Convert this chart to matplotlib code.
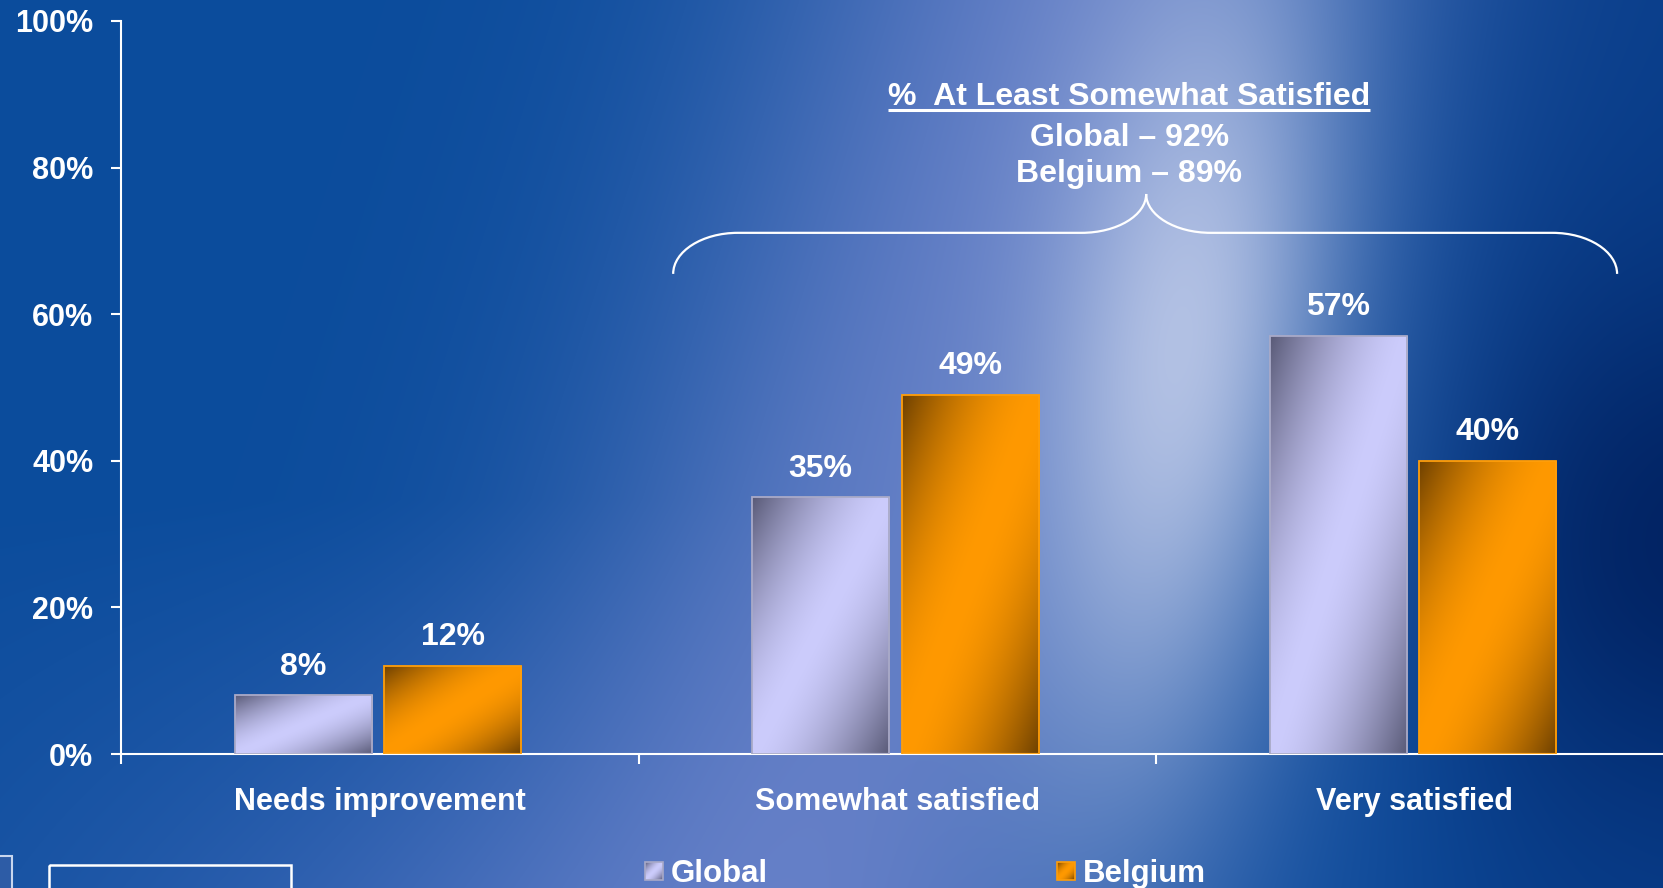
import numpy as np
import matplotlib
matplotlib.use('Agg')
import matplotlib.pyplot as plt
from matplotlib.patches import Rectangle, PathPatch
from matplotlib.path import Path
from matplotlib.colors import to_rgb

# survey data (% of respondents)
categories = ['Needs improvement', 'Somewhat satisfied', 'Very satisfied']
global_pct = [8, 35, 57]
belgium_pct = [12, 49, 40]
series_names = ['Global', 'Belgium']
y_ticks = [0, 20, 40, 60, 80, 100]
summary_title = '%  At Least Somewhat Satisfied'
summary_lines = ['Global – 92%', 'Belgium – 89%']

W, H = 1663, 888
CAT_PX = 517.5
plt.rcParams['font.family'] = ['Liberation Sans', 'DejaVu Sans']
plt.rcParams['font.weight'] = 'bold'

fig = plt.figure(figsize=(W / 100, H / 100), dpi=100)


def rgb(h):
    return np.array(to_rgb(h))


def blend(img, color, w):
    w = np.clip(w, 0, 1)[..., None]
    return img * (1 - w) + rgb(color) * w


def line_dist(xx, yy, p0, p1):
    dx, dy = p1[0] - p0[0], p1[1] - p0[1]
    n = np.hypot(dx, dy)
    return np.abs((xx - p0[0]) * dy - (yy - p0[1]) * dx) / n


# slide background: blue with a light diagonal beam
bg = fig.add_axes([0, 0, 1, 1], zorder=0)
bg.set_xlim(0, W)
bg.set_ylim(H, 0)
bg.axis('off')
yy, xx = np.mgrid[0:H, 0:W].astype(float)
img = np.ones((H, W, 3)) * rgb('#0b4c9c')
img = blend(img, '#4a70c0', 0.6 * np.clip((yy - 500) / 400, 0, 1) * np.exp(-((xx - 550) / 550) ** 2))
img = blend(img, '#06337e', 0.6 / (1 + np.exp(-(xx - 1440) / 70)))
img = blend(img, '#001d5a', 0.85 / (1 + np.exp(-(xx - 1510) / 60)) * np.exp(-((yy - 540) / 260) ** 2))
d_haze = line_dist(xx, yy, (1070, 0), (790, 888))
img = blend(img, '#7488ce', 0.8 * np.exp(-(d_haze / 310) ** 2))
d_core = line_dist(xx, yy, (1220, 0), (1120, 888))
img = blend(img, '#c6d0ec', 0.85 * np.exp(-(d_core / 145) ** 2) * np.exp(-((yy - 350) / 420) ** 2))
bg.imshow(img, extent=[0, W, H, 0], aspect='auto', interpolation='bilinear')

# small logo frame in the lower left corner
bg.add_patch(Rectangle((-4, 856), 16, 40, facecolor='#2d5ca6', edgecolor='#c8d6ee', lw=1.5))
bg.add_patch(Rectangle((49, 865), 242, 40, facecolor='none', edgecolor='white', lw=1.8))


def gradient_fill(ax, patch, light, dark, power, zorder):
    x0, y0 = patch.get_x(), patch.get_y()
    w, h = patch.get_width(), patch.get_height()
    i = np.linspace(0, 1, 200)[:, None]
    j = np.linspace(0, 1, 60)[None, :]
    s = np.abs((i + j) / 2 - 0.5) * 2
    s = s ** power
    cols = rgb(light) + (rgb(dark) - rgb(light)) * s[..., None]
    im = ax.imshow(cols, extent=[x0, x0 + w, y0, y0 + h], origin='upper',
                   aspect='auto', zorder=zorder, interpolation='bilinear')
    im.set_clip_path(patch)


styles = {
    'Global': dict(light='#ccccfc', dark='#5a5b78', power=1.6, edge='#a9aac8'),
    'Belgium': dict(light='#ff9900', dark='#6f4100', power=1.8, edge='#ff9e0a'),
}

ax = fig.add_axes([121 / W, (H - 754) / H, (W - 121) / W, 733 / H], zorder=2)
ax.patch.set_visible(False)
x = np.arange(len(categories))
bw = 0.265
for name, vals, off in [('Global', global_pct, -0.148), ('Belgium', belgium_pct, 0.141)]:
    st = styles[name]
    bars = ax.bar(x + off, vals, width=bw, facecolor='none', edgecolor=st['edge'],
                  lw=1.3, zorder=3)
    for b, v in zip(bars, vals):
        gradient_fill(ax, b, st['light'], st['dark'], st['power'], 2.5)
        ax.annotate(f'{v}%', (b.get_x() + b.get_width() / 2, v), xytext=(0, 15),
                    textcoords='offset points', ha='center', va='baseline',
                    color='white', fontsize=23, fontweight='bold')

for sp in ['top', 'right']:
    ax.spines[sp].set_visible(False)
for sp in ['left', 'bottom']:
    ax.spines[sp].set_color('white')
    ax.spines[sp].set_linewidth(1.5)
ax.set_yticks(y_ticks)
ax.set_yticklabels([f'{v}%' for v in y_ticks])
ax.tick_params(axis='y', colors='white', direction='out', length=7, width=1.5,
               pad=13, labelsize=22)
ax.set_xticks(x)
ax.set_xticklabels(categories)
ax.set_xticks(np.arange(len(categories) + 1) - 0.5, minor=True)
ax.tick_params(axis='x', which='major', colors='white', length=0, pad=23.5, labelsize=22)
ax.tick_params(axis='x', which='minor', colors='white', direction='out', length=7, width=1.5)
# the category axis runs past the right edge of the figure
ax.set_xlim(-0.5, -0.5 + (W - 121) / CAT_PX)
ax.set_ylim(0, 100)

# brace over the two "satisfied" groups
xl, xr, xt = 0.567, 2.391, 1.481
ye, yb, yt = 65.5, 71.1, 76.4
rx = 0.125
k = 0.55
verts = [
    (xl, ye), (xl, ye + k * (yb - ye)), (xl + (1 - k) * rx, yb), (xl + rx, yb),
    (xt - rx, yb),
    (xt - (1 - k) * rx, yb), (xt, yt - k * (yt - yb)), (xt, yt),
    (xt, yt - k * (yt - yb)), (xt + (1 - k) * rx, yb), (xt + rx, yb),
    (xr - rx, yb),
    (xr - (1 - k) * rx, yb), (xr, ye + k * (yb - ye)), (xr, ye),
]
codes = [Path.MOVETO, Path.CURVE4, Path.CURVE4, Path.CURVE4, Path.LINETO,
         Path.CURVE4, Path.CURVE4, Path.CURVE4,
         Path.CURVE4, Path.CURVE4, Path.CURVE4, Path.LINETO,
         Path.CURVE4, Path.CURVE4, Path.CURVE4]
ax.add_patch(PathPatch(Path(verts, codes), facecolor='none', edgecolor='white',
                       lw=1.6, zorder=4, clip_on=False))

tx = 1.448
title = ax.text(tx, 88.5, summary_title, ha='center', va='baseline', color='white',
                fontsize=23, fontweight='bold')
for yv, line in zip([83.0, 78.0], summary_lines):
    ax.text(tx, yv, line, ha='center', va='baseline', color='white',
            fontsize=23, fontweight='bold')

# underline the summary heading
fig.canvas.draw()
bb = title.get_window_extent().transformed(ax.transData.inverted())
ax.plot([bb.x0, bb.x1], [88.5 - 0.6, 88.5 - 0.6], color='white', lw=2.2,
        solid_capstyle='butt', zorder=4, clip_on=False)
ax.set_xlim(-0.5, -0.5 + (W - 121) / CAT_PX)
ax.set_ylim(0, 100)

# legend
leg = fig.add_axes([0, 0, 1, 1], zorder=3)
leg.axis('off')
for name, sx in zip(series_names, [645, 1057]):
    st = styles[name]
    sq = Rectangle((sx, 862), 18, 18, facecolor='none', edgecolor=st['edge'], lw=1.2, zorder=3)
    leg.add_patch(sq)
    i = np.linspace(0, 1, 30)[:, None]
    j = np.linspace(0, 1, 30)[None, :]
    s = (np.abs((i + j) / 2 - 0.5) * 2) ** st['power']
    cols = rgb(st['light']) + (rgb(st['dark']) - rgb(st['light'])) * s[..., None]
    leg.imshow(cols, extent=[sx, sx + 18, 880, 862], aspect='auto', zorder=2)
    leg.text(sx + 26, 882, name, ha='left', va='baseline', color='white',
             fontsize=22.5, fontweight='bold')
leg.set_xlim(0, W)
leg.set_ylim(H, 0)

fig.savefig('out.png', dpi=100)
